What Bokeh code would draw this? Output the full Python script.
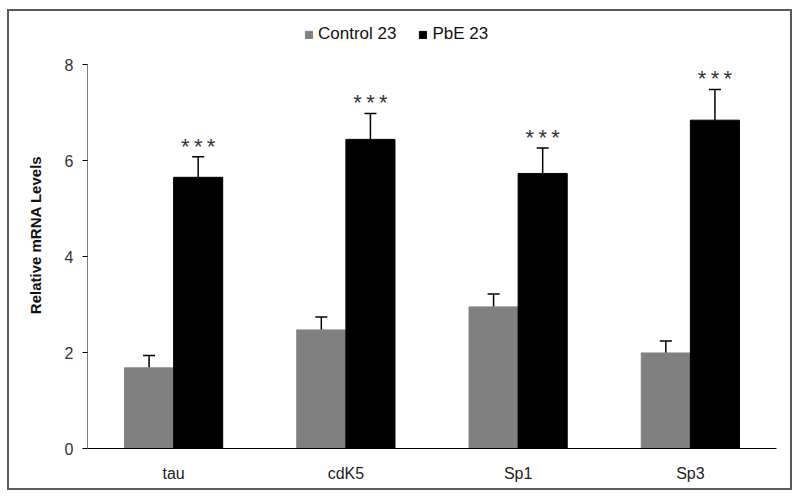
from bokeh.plotting import figure
from bokeh.models import FactorRange, Whisker, TeeHead, ColumnDataSource, Legend, LegendItem
from bokeh.transform import dodge
from bokeh.core.properties import value
from bokeh.embed import file_html
from bokeh.resources import INLINE

categories = ["tau", "cdK5", "Sp1", "Sp3"]
control_vals = [1.68, 2.47, 2.95, 1.99]
control_err = [0.26, 0.27, 0.27, 0.25]
pbe_vals = [5.65, 6.44, 5.73, 6.84]
pbe_err = [0.43, 0.54, 0.53, 0.64]
stars = ["*\u2009*\u2009*"] * 4
yticks = [0, 2, 4, 6, 8]
y_min, y_max = 0, 8

src = ColumnDataSource(dict(
    cat=categories,
    ctrl=control_vals,
    ctrl_up=[v + e for v, e in zip(control_vals, control_err)],
    pbe=pbe_vals,
    pbe_up=[v + e for v, e in zip(pbe_vals, pbe_err)],
    stars=stars,
))

p = figure(width=785, height=481, x_range=FactorRange(*categories, range_padding=0),
           y_range=(0, 8.896), output_backend="svg", toolbar_location=None,
           min_border_left=78, min_border_right=18, min_border_top=10, min_border_bottom=44)
p.margin = (9, 0, 0, 7)
p.styles = {"border": "2px solid #5a5a5a"}
p.outline_line_color = None
p.grid.grid_line_color = None

bw = 0.285
off = bw / 2
r1 = p.vbar(x=dodge("cat", -off, range=p.x_range), top="ctrl", width=bw, source=src,
            fill_color="#808080", line_color="#808080")
r2 = p.vbar(x=dodge("cat", off, range=p.x_range), top="pbe", width=bw, source=src,
            fill_color="#000000", line_color="#000000")

for xoff, base, up in [(-off, "ctrl", "ctrl_up"), (off, "pbe", "pbe_up")]:
    w = Whisker(base=dodge("cat", xoff, range=p.x_range), lower=base, upper=up, source=src,
                line_color="#000000", line_width=1.5,
                upper_head=TeeHead(size=12, line_color="#000000", line_width=1.5),
                lower_head=None)
    p.add_layout(w)

p.text(x=dodge("cat", off, range=p.x_range), y="pbe_up", text="stars", source=src,
       text_align="center", text_baseline="bottom", y_offset=2,
       text_font=value("Liberation Sans"), text_font_size="22px", text_color="#333333")

# y-axis line only spanning the tick range 0..8
axsrc = ColumnDataSource(dict(cat=[categories[0]], y0=[y_min], y1=[y_max]))
p.segment(x0=dodge("cat", -0.5, range=p.x_range), y0="y0",
          x1=dodge("cat", -0.5, range=p.x_range), y1="y1",
          source=axsrc, line_color="#000000", line_width=1)

p.yaxis.ticker = yticks
p.yaxis.axis_line_color = None
p.yaxis.axis_label = "Relative mRNA Levels"
p.yaxis.axis_label_text_font = "Liberation Sans"
p.yaxis.axis_label_text_font_style = "bold"
p.yaxis.axis_label_text_font_size = "15px"
p.yaxis.axis_label_text_color = "#111111"
p.yaxis.axis_label_standoff = 18
p.yaxis.major_label_text_font = "Liberation Sans"
p.yaxis.major_label_text_font_size = "16px"
p.yaxis.major_label_text_color = "#333333"
p.yaxis.major_tick_out = 5
p.yaxis.major_tick_in = 0
p.yaxis.major_tick_line_color = "#000000"
p.yaxis.minor_tick_line_color = None
p.yaxis.major_label_standoff = 9

p.xaxis.axis_line_color = "#000000"
p.xaxis.major_tick_line_color = None
p.xaxis.minor_tick_line_color = None
p.xaxis.major_label_text_font = "Liberation Sans"
p.xaxis.major_label_text_font_style = "normal"
p.xaxis.major_label_text_font_size = "16px"
p.xaxis.major_label_text_color = "#222222"
p.xaxis.major_label_standoff = 10

legend = Legend(items=[LegendItem(label="Control 23", renderers=[r1]),
                       LegendItem(label="PbE 23", renderers=[r2])],
                orientation="horizontal", location=(217, 404),
                label_text_font="Liberation Sans", label_text_font_size="17px",
                label_text_color="#111111", glyph_width=9, glyph_height=9,
                spacing=22, label_standoff=5, border_line_color=None,
                background_fill_alpha=0, padding=4, margin=0)
p.add_layout(legend, "center")

open("out.html", "w").write(file_html(p, INLINE))
